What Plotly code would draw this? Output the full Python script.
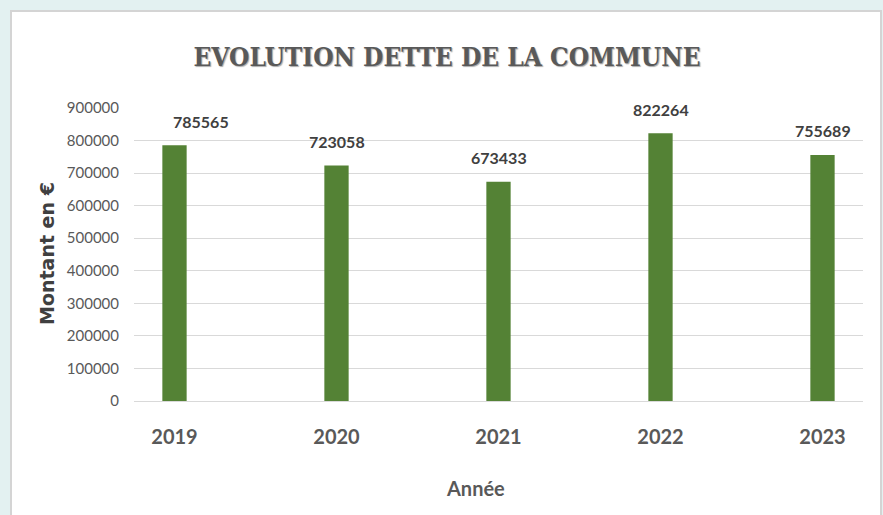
import plotly.graph_objects as go

# Données
annees = ["2019", "2020", "2021", "2022", "2023"]
montants = [785565, 723058, 673433, 822264, 755689]
graduations_y = [0, 100000, 200000, 300000, 400000, 500000, 600000, 700000, 800000, 900000]

couleur_barre = "#548235"
couleur_texte = "#595959"
couleur_texte_fonce = "#404040"
couleur_grille = "#D9D9D9"
couleur_fond = "#E3F1F1"

# marges (px) de la zone de tracé
m_l, m_r, m_t, m_b = 134, 20, 108, 114
largeur, hauteur = 883, 515
pw = largeur - m_l - m_r
ph = hauteur - m_t - m_b


def px_x(p):
    return (p - m_l) / pw


def px_y(p):
    return (hauteur - m_b - p) / ph


fig = go.Figure()

fig.add_trace(go.Bar(
    x=annees,
    y=montants,
    width=0.15,
    marker=dict(color=couleur_barre, line=dict(width=0)),
    hoverinfo="x+y",
))

# étiquettes de données (x = indice de catégorie)
decalages = [26, 0, 0, 0, 0]
for i, (v, dx) in enumerate(zip(montants, decalages)):
    fig.add_annotation(
        x=i, y=v, text=str(v), showarrow=False,
        xanchor="center", yanchor="middle",
        xshift=dx, yshift=24,
        font=dict(family="Lato", size=16, color=couleur_texte_fonce, weight="bold"),
    )

# panneau blanc du graphique
fig.add_shape(
    type="rect", xref="paper", yref="paper", layer="below",
    x0=px_x(11), x1=px_x(881), y0=px_y(530), y1=px_y(11),
    fillcolor="white", line=dict(color="#D4D4D4", width=2),
)

# titres des axes
fig.add_annotation(
    xref="paper", yref="paper", x=px_x(475), y=px_y(488),
    xanchor="center", yanchor="middle",
    text="Année", showarrow=False,
    font=dict(family="Lato", size=20, color=couleur_texte, weight="bold"),
)
fig.add_annotation(
    xref="paper", yref="paper", x=px_x(47), y=px_y(254),
    xanchor="center", yanchor="middle",
    text="Montant en €", showarrow=False, textangle=-90,
    font=dict(family="DejaVu Sans", size=19, color=couleur_texte_fonce, weight="bold"),
)

fig.update_layout(
    width=largeur,
    height=hauteur,
    margin=dict(l=m_l, r=m_r, t=m_t, b=m_b),
    paper_bgcolor=couleur_fond,
    plot_bgcolor="white",
    showlegend=False,
    title=dict(
        text="EVOLUTION DETTE DE LA COMMUNE",
        x=447 / largeur, xanchor="center",
        y=1 - 57 / hauteur, yanchor="middle", yref="container",
        font=dict(family="DejaVu Serif Condensed", size=26, color=couleur_texte,
                  weight="bold", shadow="1px 1px 1px #AAAAAA"),
    ),
    xaxis=dict(
        type="category",
        range=[-0.25, 4.25],
        showgrid=False,
        showline=False,
        ticks="",
        ticklabelstandoff=22,
        tickfont=dict(family="Lato", size=20, color=couleur_texte, weight="bold"),
        fixedrange=True,
    ),
    yaxis=dict(
        range=[0, 900000],
        tickvals=graduations_y,
        ticktext=[str(v) for v in graduations_y],
        showgrid=True,
        gridcolor=couleur_grille,
        gridwidth=1,
        zeroline=True,
        zerolinecolor=couleur_grille,
        zerolinewidth=1,
        showline=False,
        ticks="",
        ticklabelstandoff=14,
        tickfont=dict(family="Lato", size=15, color=couleur_texte),
        fixedrange=True,
    ),
)

fig.write_html("out.html", config={"displayModeBar": False},
               post_script="document.body.style.margin='0';")
